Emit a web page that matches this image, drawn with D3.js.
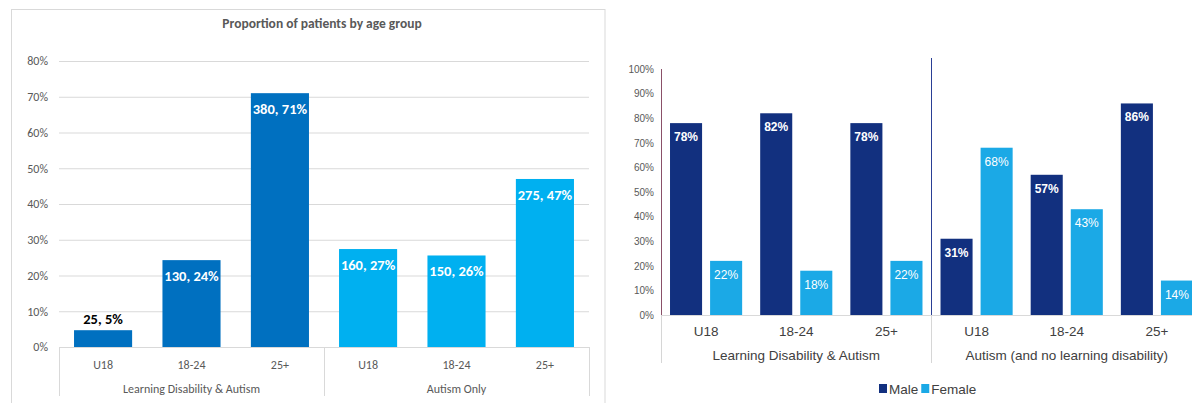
<!DOCTYPE html>
<html>
<head>
<meta charset="utf-8">
<script src="https://cdn.jsdelivr.net/npm/d3@7"></script>
<style>
  html, body { margin: 0; padding: 0; background: #ffffff; }
  svg { display: block; }
</style>
</head>
<body>
<svg id="chart" width="1192" height="403"></svg>
<script>
// ---------- DATA ----------
const ageGroups = ["U18", "18-24", "25+"];

// Left chart: proportion of patients by age group
const leftTitle = "Proportion of patients by age group";
const leftGroups = ["Learning Disability & Autism", "Autism Only"];
const leftValues = [4.7, 24.3, 71.0, 27.4, 25.6, 47.0];
const leftLabels = ["25, 5%", "130, 24%", "380, 71%", "160, 27%", "150, 26%", "275, 47%"];
const leftTicks = [0, 10, 20, 30, 40, 50, 60, 70, 80];
const leftColors = ["#0070C0", "#00B0F0"];

// Right chart: male / female split
const rightGroups = ["Learning Disability & Autism", "Autism (and no learning disability)"];
const series = ["Male", "Female"];
const maleValues = [78, 82, 78, 31, 57, 86];
const femaleValues = [22, 18, 22, 68, 43, 14];
const rightTicks = [0, 10, 20, 30, 40, 50, 60, 70, 80, 90, 100];
const seriesColors = ["#12307F", "#1BA9E6"];

// ---------- DRAW ----------
const svg = d3.select("#chart");
const leftFont = "Carlito, Lato, 'Open Sans', sans-serif";
const rightFont = "'Liberation Sans', Arial, sans-serif";

// ===== LEFT CHART =====
const L = { x0: 59, x1: 589, yTop: 61, yBot: 347, catY: 369, grpY: 393, sepBot: 396 };
const left = svg.append("g");

// frame
left.append("rect").attr("x", 11.5).attr("y", 9.5).attr("width", 593.5).attr("height", 420)
  .attr("fill", "none").attr("stroke", "#D9D9D9").attr("stroke-width", 1);

left.append("text").attr("x", 322).attr("y", 28).attr("text-anchor", "middle")
  .attr("font-family", leftFont).attr("font-weight", "bold").attr("font-size", 13.5)
  .attr("fill", "#595959").text(leftTitle);

const yL = d3.scaleLinear().domain([0, 80]).range([L.yBot, L.yTop]);
const gxL = d3.scaleBand().domain(leftGroups).range([L.x0, L.x1]);
const cxL = d3.scaleBand().domain(ageGroups).range([0, gxL.bandwidth()]).paddingInner(0.343).paddingOuter(0.17);

const yAxisL = d3.axisLeft(yL).tickValues(leftTicks).tickFormat(d => d + "%")
  .tickSize(-(L.x1 - L.x0)).tickPadding(11);
const gyL = left.append("g").attr("transform", `translate(${L.x0},0)`).call(yAxisL);
gyL.select(".domain").remove();
gyL.selectAll(".tick line").attr("stroke", "#D9D9D9").attr("stroke-width", 1);
gyL.selectAll(".tick text").attr("font-family", leftFont).attr("font-size", 12).attr("fill", "#595959");

// bars
leftGroups.forEach((g, gi) => {
  ageGroups.forEach((a, ai) => {
    const i = gi * 3 + ai;
    const v = leftValues[i];
    const bx = gxL(g) + cxL(a);
    const bw = cxL.bandwidth();
    const top = yL(v);
    left.append("rect").attr("x", bx).attr("y", top).attr("width", bw)
      .attr("height", yL(0) - top).attr("fill", leftColors[gi]);
    const inside = (yL(0) - top) > 30;
    left.append("text").attr("x", bx + bw / 2).attr("y", inside ? top + 21 : top - 6)
      .attr("text-anchor", "middle").attr("font-family", leftFont).attr("font-weight", "bold")
      .attr("font-size", 14.5).attr("fill", inside ? "#ffffff" : "#000000").text(leftLabels[i]);
    left.append("text").attr("x", bx + bw / 2).attr("y", L.catY).attr("text-anchor", "middle")
      .attr("font-family", leftFont).attr("font-size", 12).attr("fill", "#595959").text(a);
  });
  left.append("text").attr("x", gxL(g) + gxL.bandwidth() / 2).attr("y", L.grpY).attr("text-anchor", "middle")
    .attr("font-family", leftFont).attr("font-size", 12).attr("fill", "#595959").text(g);
});
// baseline + separators
left.append("line").attr("x1", L.x0).attr("x2", L.x1).attr("y1", L.yBot + 0.5).attr("y2", L.yBot + 0.5)
  .attr("stroke", "#D9D9D9");
[L.x0, gxL(leftGroups[1]), L.x1].forEach(x => {
  left.append("line").attr("x1", x + 0.5).attr("x2", x + 0.5).attr("y1", L.yBot).attr("y2", L.sepBot)
    .attr("stroke", "#D9D9D9");
});

// ===== RIGHT CHART =====
const R = { x0: 661, x1: 1202, yTop: 69, yBot: 315, catY: 336, grpY: 360, sepBot: 363 };
const right = svg.append("g");

const yR = d3.scaleLinear().domain([0, 100]).range([R.yBot, R.yTop]);
const gxR = d3.scaleBand().domain(rightGroups).range([R.x0, R.x1]);
const cxR = d3.scaleBand().domain(ageGroups).range([0, gxR.bandwidth()]);
const sxR = d3.scaleBand().domain(series).range([0, cxR.bandwidth()]).paddingInner(0.2).paddingOuter(0.225);

const yAxisR = d3.axisLeft(yR).tickValues(rightTicks).tickFormat(d => d + "%").tickSize(0).tickPadding(7);
const gyR = right.append("g").attr("transform", `translate(${R.x0},0)`).call(yAxisR);
gyR.select(".domain").remove();
gyR.selectAll(".tick text").attr("font-family", rightFont).attr("font-size", 10).attr("fill", "#595959");

const seriesValues = [maleValues, femaleValues];
rightGroups.forEach((g, gi) => {
  ageGroups.forEach((a, ai) => {
    const i = gi * 3 + ai;
    series.forEach((s, si) => {
      const v = seriesValues[si][i];
      const bx = gxR(g) + cxR(a) + sxR(s);
      const bw = sxR.bandwidth();
      const top = yR(v);
      right.append("rect").attr("x", bx).attr("y", top).attr("width", bw)
        .attr("height", yR(0) - top).attr("fill", seriesColors[si]);
      right.append("text").attr("x", bx + bw / 2).attr("y", top + 18).attr("text-anchor", "middle")
        .attr("font-family", rightFont).attr("font-weight", si === 0 ? "bold" : "normal")
        .attr("font-size", 12).attr("fill", "#ffffff").text(v + "%");
    });
    right.append("text").attr("x", gxR(g) + cxR(a) + cxR.bandwidth() / 2).attr("y", R.catY)
      .attr("text-anchor", "middle").attr("font-family", rightFont).attr("font-size", 13.5)
      .attr("fill", "#404040").text(a);
  });
  right.append("text").attr("x", gxR(g) + gxR.bandwidth() / 2).attr("y", R.grpY).attr("text-anchor", "middle")
    .attr("font-family", rightFont).attr("font-size", 13.5).attr("fill", "#404040").text(g);
});

// axes lines
right.append("line").attr("x1", R.x0 + 0.5).attr("x2", R.x0 + 0.5).attr("y1", R.yTop).attr("y2", R.yBot)
  .attr("stroke", "#8A5068").attr("stroke-width", 1);
right.append("line").attr("x1", R.x0 + 0.5).attr("x2", R.x0 + 0.5).attr("y1", R.yBot).attr("y2", R.sepBot)
  .attr("stroke", "#D6D6D6");
const sepX = gxR(rightGroups[1]);
right.append("line").attr("x1", sepX).attr("x2", sepX).attr("y1", 58).attr("y2", R.yBot)
  .attr("stroke", "#2A3F95").attr("stroke-width", 1);
right.append("line").attr("x1", sepX).attr("x2", sepX).attr("y1", R.yBot).attr("y2", R.sepBot)
  .attr("stroke", "#D6D6D6");
right.append("line").attr("x1", R.x0).attr("x2", R.x1).attr("y1", R.yBot + 0.5).attr("y2", R.yBot + 0.5)
  .attr("stroke", "#D9D9D9");

// legend
const legend = right.append("g").attr("font-family", rightFont).attr("font-size", 13.5).attr("fill", "#404040");
let lx = 879;
series.forEach((s, si) => {
  legend.append("rect").attr("x", lx).attr("y", 384).attr("width", 8).attr("height", 9).attr("fill", seriesColors[si]);
  const t = legend.append("text").attr("x", lx + 10).attr("y", 394).text(s);
  lx += 10 + t.node().getComputedTextLength() + 3;
});
</script>
</body>
</html>
